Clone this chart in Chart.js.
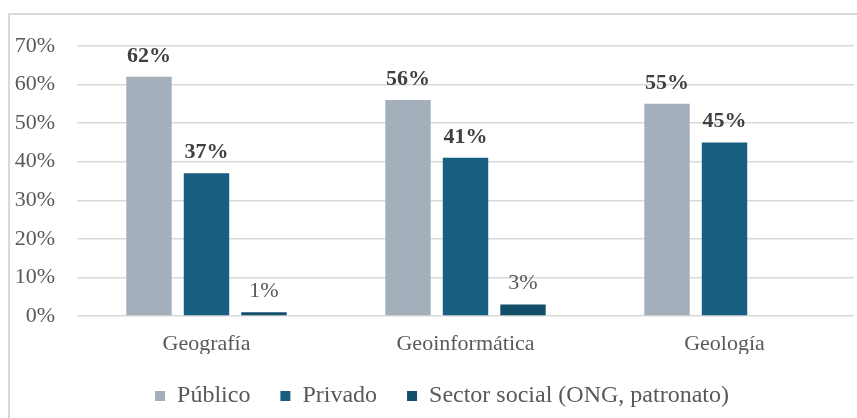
<!DOCTYPE html>
<html lang="es">
<head>
<meta charset="utf-8">
<script src="https://cdn.jsdelivr.net/npm/chart.js@4/dist/chart.umd.min.js"></script>
<style>
  html, body { margin: 0; padding: 0; background: #fff; }
  .marco {
    position: absolute; left: 8px; top: 13px; width: 860px; height: 420px;
    border-left: 2px solid #d9d9d9; border-top: 2px solid #d9d9d9;
  }
  .grafica-box { position: absolute; left: 0; top: 0; width: 857px; height: 418px; }
</style>
</head>
<body>
<div class="marco"></div>
<div class="grafica-box"><canvas id="graficoUnico"></canvas></div>
<script>
// datos
const carreras = ["Geografía", "Geoinformática", "Geología"];
const publico = [62, 56, 55];
const privado = [37, 41, 45];
const sectorSocial = [1, 3, null];
const seriesNombres = ["Público", "Privado", "Sector social (ONG, patronato)"];
const colores = ["#a3afba", "#185e80", "#134e6a"];

const fuente = "'Liberation Serif', 'Times New Roman', serif";

// etiquetas de valor encima de cada barra
const etiquetasValor = {
  id: "etiquetasValor",
  afterDatasetsDraw(chart) {
    const ctx = chart.ctx;
    ctx.save();
    ctx.textAlign = "center";
    ctx.textBaseline = "alphabetic";
    chart.data.datasets.forEach((ds, i) => {
      const meta = chart.getDatasetMeta(i);
      meta.data.forEach((bar, j) => {
        const v = ds.data[j];
        if (v === null || v === undefined) return;
        const negrita = i < 2;
        ctx.font = (negrita ? "bold " : "") + "22px " + fuente;
        ctx.fillStyle = negrita ? "#404040" : "#595959";
        ctx.fillText(v + "%", bar.x, bar.y - 15);
      });
    });
    ctx.restore();
  }
};

// la leyenda original esta un poco a la derecha del centro
const moverLeyenda = {
  id: "moverLeyenda",
  afterLayout(chart) {
    if (chart.legend) {
      chart.legend.left += 15;
      chart.legend.right += 15;
    }
  }
};

const datasets = [publico, privado, sectorSocial].map((serie, i) => ({
  label: seriesNombres[i],
  data: serie,
  backgroundColor: colores[i],
  borderWidth: 0,
  categoryPercentage: 0.666,
  barPercentage: 0.79
}));

new Chart(document.getElementById("graficoUnico"), {
  type: "bar",
  data: { labels: carreras, datasets: datasets },
  plugins: [etiquetasValor, moverLeyenda],
  options: {
    responsive: true,
    maintainAspectRatio: false,
    animation: false,
    layout: { padding: { top: 46, left: 0, right: 3, bottom: 0 } },
    plugins: {
      tooltip: { enabled: false },
      legend: {
        position: "bottom",
        labels: {
          boxWidth: 10,
          boxHeight: 10,
          padding: 30,
          color: "#595959",
          font: { family: fuente, size: 24 }
        }
      }
    },
    scales: {
      x: {
        grid: { display: false },
        border: { display: false },
        ticks: { color: "#595959", padding: 7, font: { family: fuente, size: 22 } },
        afterFit(scale) { scale.height = 38; }
      },
      y: {
        min: 0,
        max: 70,
        grid: { color: "#d9d9d9", lineWidth: 1.5, drawTicks: false },
        border: { display: false },
        ticks: {
          stepSize: 10,
          padding: 22,
          color: "#595959",
          font: { family: fuente, size: 22 },
          callback: (v) => v + "%"
        },
        afterFit(scale) { scale.width = 77; }
      }
    }
  }
});
</script>
</body>
</html>
